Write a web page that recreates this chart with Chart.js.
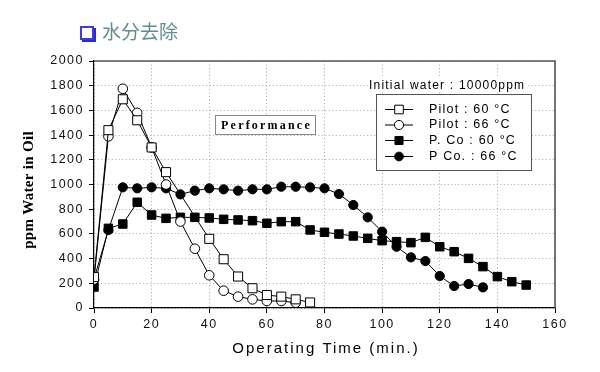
<!DOCTYPE html>
<html>
<head>
<meta charset="utf-8">
<script src="https://cdn.jsdelivr.net/npm/chart.js@4/dist/chart.umd.min.js"></script>
<style>
  html, body { margin: 0; padding: 0; background: #fff; }
  #wrap { position: relative; width: 600px; height: 372px; overflow: hidden; }
  #c { position: absolute; left: 0; top: 0; }
  #title { position: absolute; left: 80px; top: 19px; font-family: "Noto Sans CJK SC", sans-serif; font-size: 19px; color: #5f8e8e; line-height: 24px; white-space: nowrap; }
  #icon { display: inline-block; width: 10px; height: 10px; border: 2px solid #3a3af2; box-shadow: 2px 2px 0 #2b2bd0; vertical-align: -1px; margin-right: 8px; background: #fff; }
</style>
</head>
<body>
<div id="wrap">
  <canvas id="c" width="600" height="372"></canvas>
  <div id="title"><span id="icon"></span>水分去除</div>
</div>
<script>
// ---- data ----
const seriesNames = ["Pilot : 60 °C", "Pilot : 66 °C", "P. Co : 60 °C", "P Co. : 66 °C"];
const pilot60X = [0, 5, 10, 15, 20, 25, 40, 45, 50, 55, 60, 65, 70, 75];
const pilot60Y = [250, 1440, 1690, 1520, 1300, 1100, 560, 395, 255, 160, 105, 92, 70, 45];
const pilot66X = [0, 5, 10, 15, 20, 25, 30, 35, 40, 45, 50, 55, 60, 65, 70];
const pilot66Y = [230, 1390, 1775, 1580, 1300, 1000, 700, 480, 265, 140, 92, 70, 57, 57, 43];
const pco60X = [0, 5, 10, 15, 20, 25, 30, 35, 40, 45, 50, 55, 60, 65, 70, 75, 80, 85, 90, 95, 100, 105, 110, 115, 120, 125, 130, 135, 140, 145, 150];
const pco60Y = [170, 645, 680, 856, 753, 726, 734, 734, 729, 718, 713, 707, 686, 699, 699, 632, 613, 599, 583, 564, 545, 537, 529, 572, 496, 456, 402, 335, 254, 213, 186];
const pco66X = [0, 5, 10, 15, 20, 25, 30, 35, 40, 45, 50, 55, 60, 65, 70, 75, 80, 85, 90, 95, 100, 105, 110, 115, 120, 125, 130, 135];
const pco66Y = [235, 632, 977, 969, 977, 969, 920, 950, 969, 961, 950, 961, 961, 982, 982, 977, 969, 923, 834, 734, 618, 496, 410, 380, 259, 178, 194, 167];
const xTicks = [0, 20, 40, 60, 80, 100, 120, 140, 160];
const yTicks = [0, 200, 400, 600, 800, 1000, 1200, 1400, 1600, 1800, 2000];
const xTitle = "Operating Time (min.)";
const yTitle = "ppm Water in Oil";
const noteText = "Initial water : 10000ppm";
const boxText = "Performance";

const toXY = (xs, ys) => xs.map((x, i) => ({ x: x, y: ys[i] }));

const styles = [
  { pointStyle: 'rect', radius: 6.4, fill: '#ffffff' },
  { pointStyle: 'circle', radius: 4.8, fill: '#ffffff' },
  { pointStyle: 'rect', radius: 6.0, fill: '#000000' },
  { pointStyle: 'circle', radius: 4.6, fill: '#000000' }
];
const dataSets = [toXY(pilot60X, pilot60Y), toXY(pilot66X, pilot66Y), toXY(pco60X, pco60Y), toXY(pco66X, pco66Y)];

const TICK_FONT = "Liberation Sans, Arial, sans-serif";

function drawMarker(ctx, style, x, y, r) {
  ctx.beginPath();
  if (style.pointStyle === 'rect') {
    const s = r * Math.SQRT1_2;
    ctx.rect(x - s, y - s, 2 * s, 2 * s);
  } else {
    ctx.arc(x, y, r, 0, Math.PI * 2);
  }
  ctx.fillStyle = style.fill;
  ctx.fill();
  ctx.lineWidth = 1;
  ctx.strokeStyle = '#000';
  ctx.stroke();
}

const decor = {
  id: 'decor',
  beforeDraw(chart) {
    chart.ctx.letterSpacing = '1.5px';
  },
  afterDraw(chart) {
    const ctx = chart.ctx;
    const a = chart.chartArea;
    ctx.save();
    // frame top & right
    ctx.strokeStyle = '#555';
    ctx.lineWidth = 1.6;
    ctx.beginPath();
    ctx.moveTo(a.left, a.top);
    ctx.lineTo(a.right, a.top);
    ctx.lineTo(a.right, a.bottom);
    ctx.stroke();

    // Performance box
    ctx.fillStyle = '#fff';
    ctx.fillRect(215.5, 115.5, 100, 19);
    ctx.strokeStyle = '#888';
    ctx.lineWidth = 1;
    ctx.strokeRect(215.5, 115.5, 100, 19);
    ctx.fillStyle = '#000';
    ctx.font = "bold 12px 'Liberation Serif', 'Times New Roman', serif";
    ctx.letterSpacing = '2.2px';
    ctx.textAlign = 'center';
    ctx.textBaseline = 'middle';
    ctx.fillText(boxText, 266.5, 125.5);

    // Initial water note
    ctx.font = "12px " + TICK_FONT;
    ctx.letterSpacing = '1.2px';
    ctx.textAlign = 'left';
    const w = ctx.measureText(noteText).width;
    ctx.fillStyle = '#fff';
    ctx.fillRect(368, 78, w + 2, 14);
    ctx.fillStyle = '#000';
    ctx.fillText(noteText, 369, 85.5);

    // legend
    ctx.fillStyle = '#fff';
    ctx.fillRect(376.5, 94.5, 155, 76);
    ctx.strokeStyle = '#555';
    ctx.lineWidth = 1;
    ctx.strokeRect(376.5, 94.5, 155, 76);
    const rows = [109.5, 125, 140.5, 156.5];
    ctx.font = "12.5px " + TICK_FONT;
    ctx.letterSpacing = '1.2px';
    for (let i = 0; i < 4; i++) {
      const y = rows[i];
      ctx.strokeStyle = '#000';
      ctx.lineWidth = 1;
      ctx.beginPath();
      ctx.moveTo(385, y);
      ctx.lineTo(413, y);
      ctx.stroke();
      drawMarker(ctx, styles[i], 399, y, styles[i].radius * 0.95);
      ctx.fillStyle = '#000';
      ctx.textAlign = 'left';
      ctx.textBaseline = 'middle';
      ctx.fillText(seriesNames[i], 429, y);
    }

    // axis titles
    ctx.fillStyle = '#000';
    ctx.font = "15px " + TICK_FONT;
    ctx.letterSpacing = '2px';
    ctx.textAlign = 'center';
    ctx.textBaseline = 'middle';
    ctx.fillText(xTitle, 326, 349);

    ctx.translate(29, 190);
    ctx.rotate(-Math.PI / 2);
    ctx.font = "bold 15px 'Liberation Serif', 'Times New Roman', serif";
    ctx.letterSpacing = '0.3px';
    ctx.fillText(yTitle, 0, 0);
    ctx.restore();
  }
};

new Chart(document.getElementById('c'), {
  type: 'line',
  data: {
    datasets: dataSets.map((d, i) => ({
      label: seriesNames[i],
      data: d,
      borderColor: '#000',
      borderWidth: 1,
      pointStyle: styles[i].pointStyle,
      pointRadius: styles[i].radius,
      pointBackgroundColor: styles[i].fill,
      pointBorderColor: '#000',
      pointBorderWidth: 1,
      tension: 0,
      fill: false
    }))
  },
  options: {
    responsive: false,
    animation: false,
    events: [],
    layout: { padding: { left: 0, top: 61, right: 45, bottom: 0 } },
    plugins: { legend: { display: false }, tooltip: { enabled: false } },
    scales: {
      x: {
        type: 'linear',
        min: 0, max: 160,
        afterFit(s) { s.height = 64; },
        afterBuildTicks(s) { s.ticks = xTicks.map(v => ({ value: v })); },
        ticks: { color: '#111', font: { family: TICK_FONT, size: 12.5 }, padding: 4, maxRotation: 0, autoSkip: false, callback: v => String(v) },
        grid: { color: '#a8a8a8', lineWidth: 1, tickLength: 5, tickColor: '#000', tickWidth: 1, tickBorderDash: [] },
        border: { display: true, color: '#000', width: 1.2, dash: [1, 2.5] }
      },
      y: {
        type: 'linear',
        min: 0, max: 2000,
        afterFit(s) { s.width = 94; },
        afterBuildTicks(s) { s.ticks = yTicks.map(v => ({ value: v })); },
        ticks: { color: '#111', font: { family: TICK_FONT, size: 12.5 }, padding: 5, autoSkip: false, callback: v => String(v) },
        grid: { color: '#a8a8a8', lineWidth: 1, tickLength: 5, tickColor: '#000', tickWidth: 1, tickBorderDash: [] },
        border: { display: true, color: '#000', width: 1.2, dash: [1, 2.5] }
      }
    }
  },
  plugins: [decor]
});
</script>
</body>
</html>
